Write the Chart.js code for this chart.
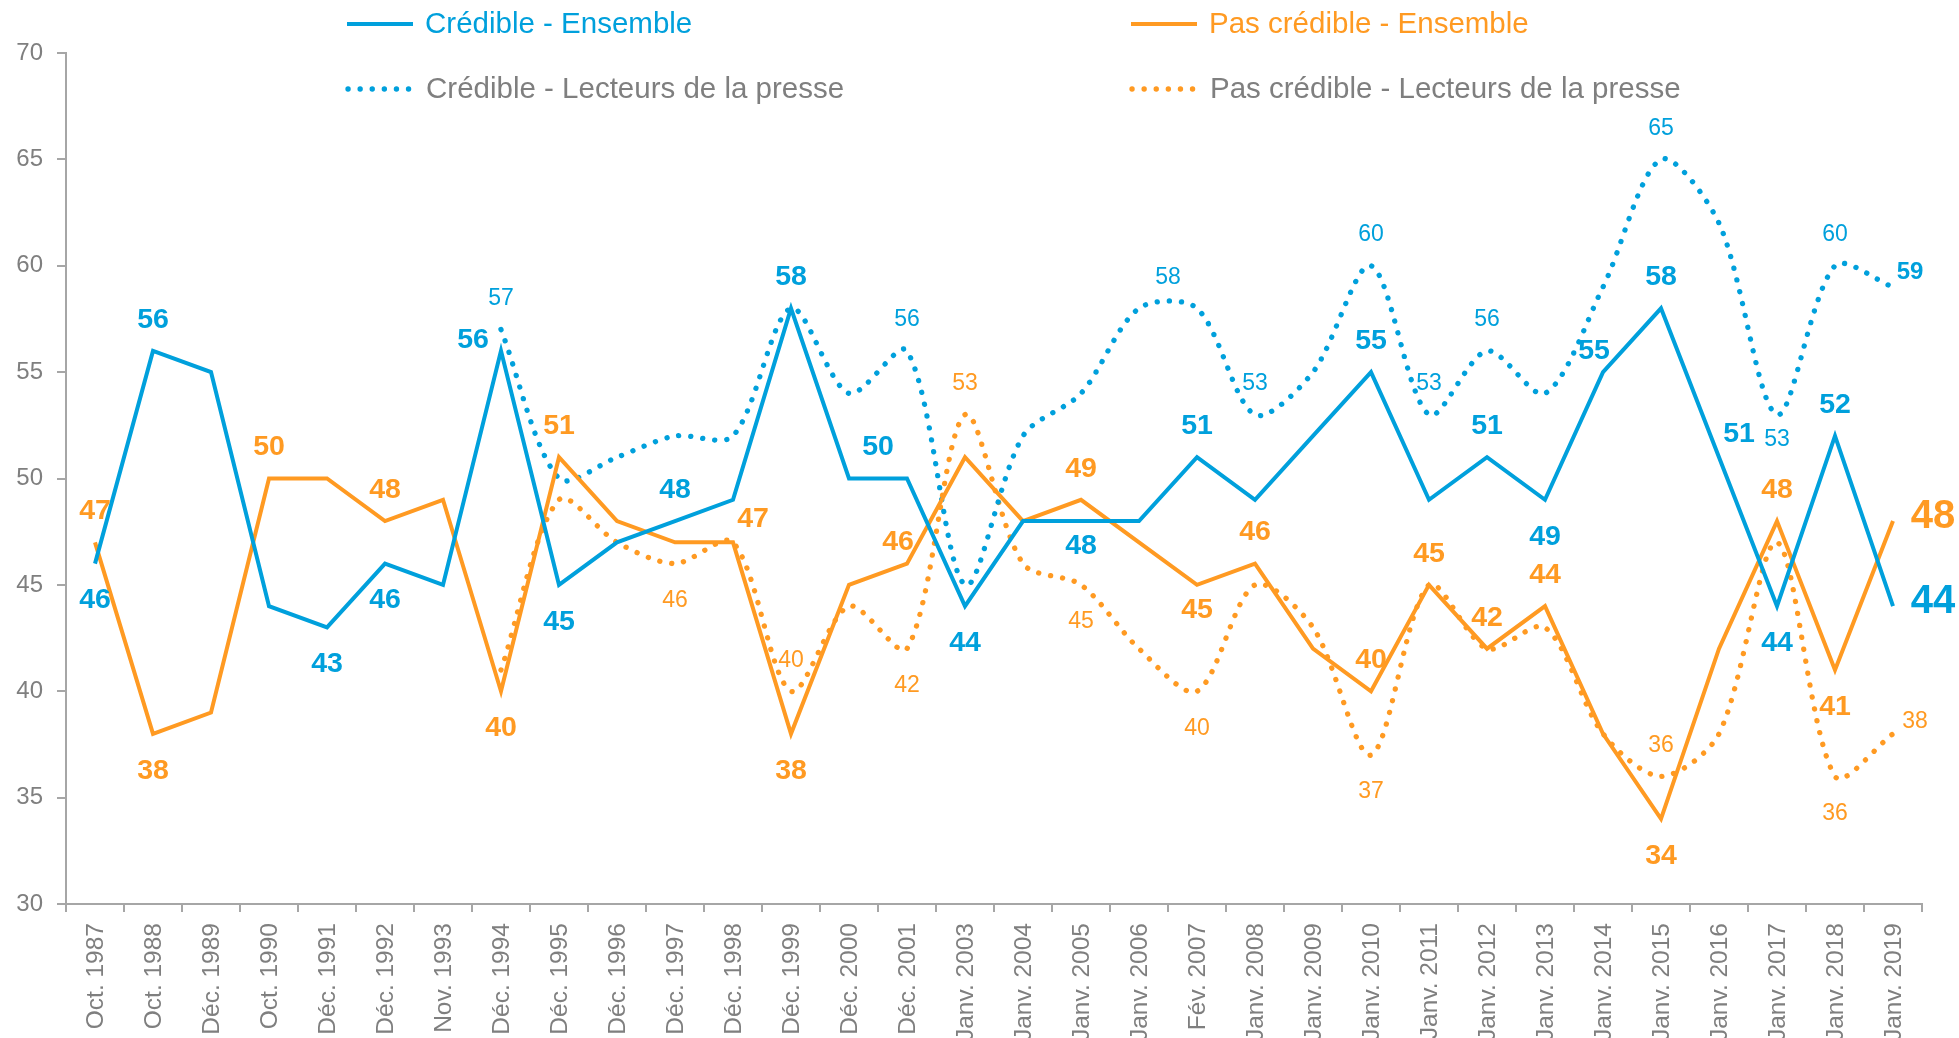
<!DOCTYPE html>
<html>
<head>
<meta charset="utf-8">
<script src="https://cdn.jsdelivr.net/npm/chart.js"></script>
<style>
  html, body { margin: 0; padding: 0; background: #fff; }
  #wrap { width: 1959px; height: 1038px; position: relative; }
</style>
</head>
<body>
<div id="wrap"><canvas id="credChart"></canvas></div>
<script>
// survey waves (x axis)
let waves = ["Oct. 1987", "Oct. 1988", "Déc. 1989", "Oct. 1990", "Déc. 1991", "Déc. 1992",
  "Nov. 1993", "Déc. 1994", "Déc. 1995", "Déc. 1996", "Déc. 1997", "Déc. 1998", "Déc. 1999",
  "Déc. 2000", "Déc. 2001", "Janv. 2003", "Janv. 2004", "Janv. 2005", "Janv. 2006", "Fév. 2007",
  "Janv. 2008", "Janv. 2009", "Janv. 2010", "Janv. 2011", "Janv. 2012", "Janv. 2013",
  "Janv. 2014", "Janv. 2015", "Janv. 2016", "Janv. 2017", "Janv. 2018", "Janv. 2019"];

// values (%)
let credibleAll = [46, 56, 55, 44, 43, 46, 45, 56, 45, 47, 48, 49, 58, 50, 50, 44,
  48, 48, 48, 51, 49, 52, 55, 49, 51, 49, 55, 58, 51, 44, 52, 44];
let notCredibleAll = [47, 38, 39, 50, 50, 48, 49, 40, 51, 48, 47, 47, 38, 45, 46, 51,
  48, 49, 47, 45, 46, 42, 40, 45, 42, 44, 38, 34, 42, 48, 41, 48];
let credibleReaders = [null, null, null, null, null, null, null, 57, 50, 51, 52, 52, 58, 54, 56, 45,
  52, 54, 58, 58, 53, 55, 60, 53, 56, 54, 59, 65, 62, 53, 60, 59];
let notCredibleReaders = [null, null, null, null, null, null, null, 41, 49, 47, 46, 47, 40, 44, 42, 53,
  46, 45, 42, 40, 45, 43, 37, 45, 42, 43, 38, 36, 38, 47, 36, 38];

let yTicks = [30, 35, 40, 45, 50, 55, 60, 65, 70];

// which points carry a value label, and where (codes -> offsets below)
let credibleAllLabels = ["b", "a", null, null, "b", "b", null, "l", "b", null, "a", null, "a", "am", null, "b",
  null, "bs", null, "a", null, null, "a", null, "a", "b", "al", "a", "ar", "b", "a", "R"];
let notCredibleAllLabels = ["a", "b", null, "a", null, "a", null, "b", "a", null, null, "ar", "b", null, "al", null,
  null, "a", null, "bs", "a", null, "a", "a", "a", "a", null, "b", null, "a", "b", "R"];
let credibleReadersLabels = [null, null, null, null, null, null, null, "a", null, null, null, null, null, null, "a", null,
  null, null, "am", null, "a", null, "a", "a", "a", null, null, "a", null, "bs", "a", "rB"];
let notCredibleReadersLabels = [null, null, null, null, null, null, null, null, null, null, "b", null, "a", null, "b", "a",
  null, "b", null, "b", null, null, "b", null, null, null, null, "a", null, null, "b", "ra"];

const BLUE = "#00A0DC";
const ORANGE = "#FF9A22";
const GREY = "#7f7f7f";
const AXIS = "#a6a6a6";
const FONT = '"Liberation Sans", Arial, sans-serif';

const placeOffsets = {
  a: [0, -31], b: [0, 37], bs: [0, 25], l: [-28, -11], am: [29, -31],
  ar: [20, -23], al: [-9, -21], R: [40, -4], rB: [17, -15], ra: [22, -12]
};

// value labels next to the points
const valueLabels = {
  id: "valueLabels",
  afterDatasetsDraw(chart) {
    const ctx = chart.ctx;
    chart.data.datasets.forEach((ds, i) => {
      const meta = chart.getDatasetMeta(i);
      ds.labelPlaces.forEach((code, j) => {
        if (!code || ds.data[j] == null) return;
        const pt = meta.data[j];
        const off = placeOffsets[code];
        let weight = ds.labelBold ? "bold" : "normal";
        let size = ds.labelBold ? 28.5 : 23;
        if (code === "R") { weight = "bold"; size = 40; }
        if (code === "rB") { weight = "bold"; size = 24; }
        ctx.save();
        ctx.font = weight + " " + size + "px " + FONT;
        ctx.fillStyle = ds.borderColor;
        ctx.textAlign = "center";
        ctx.textBaseline = "middle";
        ctx.fillText(String(ds.data[j]), pt.x + off[0], pt.y + off[1]);
        ctx.restore();
      });
    });
  }
};

// vertical category labels under the x axis
const waveLabels = {
  id: "waveLabels",
  afterDraw(chart) {
    const ctx = chart.ctx;
    const xs = chart.scales.x;
    ctx.save();
    ctx.font = "24.5px " + FONT;
    ctx.fillStyle = GREY;
    ctx.textAlign = "right";
    ctx.textBaseline = "middle";
    chart.data.labels.forEach((w, i) => {
      const x = xs.getPixelForValue(i);
      ctx.save();
      ctx.translate(x + 1, xs.top + 19);
      ctx.rotate(-Math.PI / 2);
      ctx.fillText(w, 0, 0);
      ctx.restore();
    });
    ctx.restore();
  }
};

// legend in two columns at the top
const topLegend = {
  id: "topLegend",
  afterDraw(chart) {
    const ctx = chart.ctx;
    const slots = [[347, 24], [1131, 24], [348, 89], [1132, 89]];
    chart.data.datasets.forEach((ds, i) => {
      const [x, y] = slots[i];
      ctx.save();
      ctx.strokeStyle = ds.borderColor;
      ctx.lineWidth = ds.borderWidth;
      ctx.lineCap = ds.borderCapStyle || "butt";
      ctx.setLineDash(ds.borderDash || []);
      ctx.beginPath();
      ctx.moveTo(x, y);
      ctx.lineTo(x + 66, y);
      ctx.stroke();
      ctx.setLineDash([]);
      ctx.font = "29.5px " + FONT;
      ctx.fillStyle = ds.legendTextColor;
      ctx.textAlign = "left";
      ctx.textBaseline = "middle";
      ctx.fillText(ds.label, x + 78, y + 1);
      ctx.restore();
    });
  }
};

let canvasElement = document.getElementById("credChart");

let credChart = new Chart(canvasElement.getContext("2d"), {
  type: "line",
  data: {
    labels: waves,
    datasets: [
      {
        label: "Crédible - Ensemble",
        data: credibleAll,
        borderColor: BLUE,
        borderWidth: 4,
        borderJoinStyle: "miter",
        tension: 0,
        labelPlaces: credibleAllLabels,
        labelBold: true,
        legendTextColor: BLUE
      },
      {
        label: "Pas crédible - Ensemble",
        data: notCredibleAll,
        borderColor: ORANGE,
        borderWidth: 4,
        borderJoinStyle: "miter",
        tension: 0,
        labelPlaces: notCredibleAllLabels,
        labelBold: true,
        legendTextColor: ORANGE
      },
      {
        label: "Crédible - Lecteurs de la presse",
        data: credibleReaders,
        borderColor: BLUE,
        borderWidth: 5.3,
        borderDash: [0.1, 12],
        borderCapStyle: "round",
        tension: 0.3,
        labelPlaces: credibleReadersLabels,
        labelBold: false,
        legendTextColor: GREY
      },
      {
        label: "Pas crédible - Lecteurs de la presse",
        data: notCredibleReaders,
        borderColor: ORANGE,
        borderWidth: 5.3,
        borderDash: [0.1, 12],
        borderCapStyle: "round",
        tension: 0.3,
        labelPlaces: notCredibleReadersLabels,
        labelBold: false,
        legendTextColor: GREY
      }
    ]
  },
  options: {
    responsive: true,
    maintainAspectRatio: false,
    animation: false,
    elements: { point: { radius: 0, hoverRadius: 0 } },
    layout: { padding: { left: 16, right: 37, top: 53, bottom: 0 } },
    plugins: {
      legend: { display: false },
      tooltip: { enabled: false }
    },
    scales: {
      x: {
        offset: true,
        ticks: { display: false },
        grid: { offset: true, drawOnChartArea: false, drawTicks: true, tickLength: 8, color: AXIS, lineWidth: 2 },
        border: { display: true, color: AXIS, width: 2 },
        afterFit: (scale) => { scale.height = 134; }
      },
      y: {
        min: 30,
        max: 70,
        afterBuildTicks: (scale) => { scale.ticks = yTicks.map(v => ({ value: v })); },
        ticks: { color: GREY, font: { family: FONT, size: 24 }, padding: 14 },
        grid: { drawOnChartArea: false, drawTicks: true, tickLength: 9, color: AXIS, lineWidth: 2 },
        border: { display: true, color: AXIS, width: 2 },
        afterFit: (scale) => { scale.width = 50; }
      }
    }
  },
  plugins: [valueLabels, waveLabels, topLegend]
});
</script>
</body>
</html>
